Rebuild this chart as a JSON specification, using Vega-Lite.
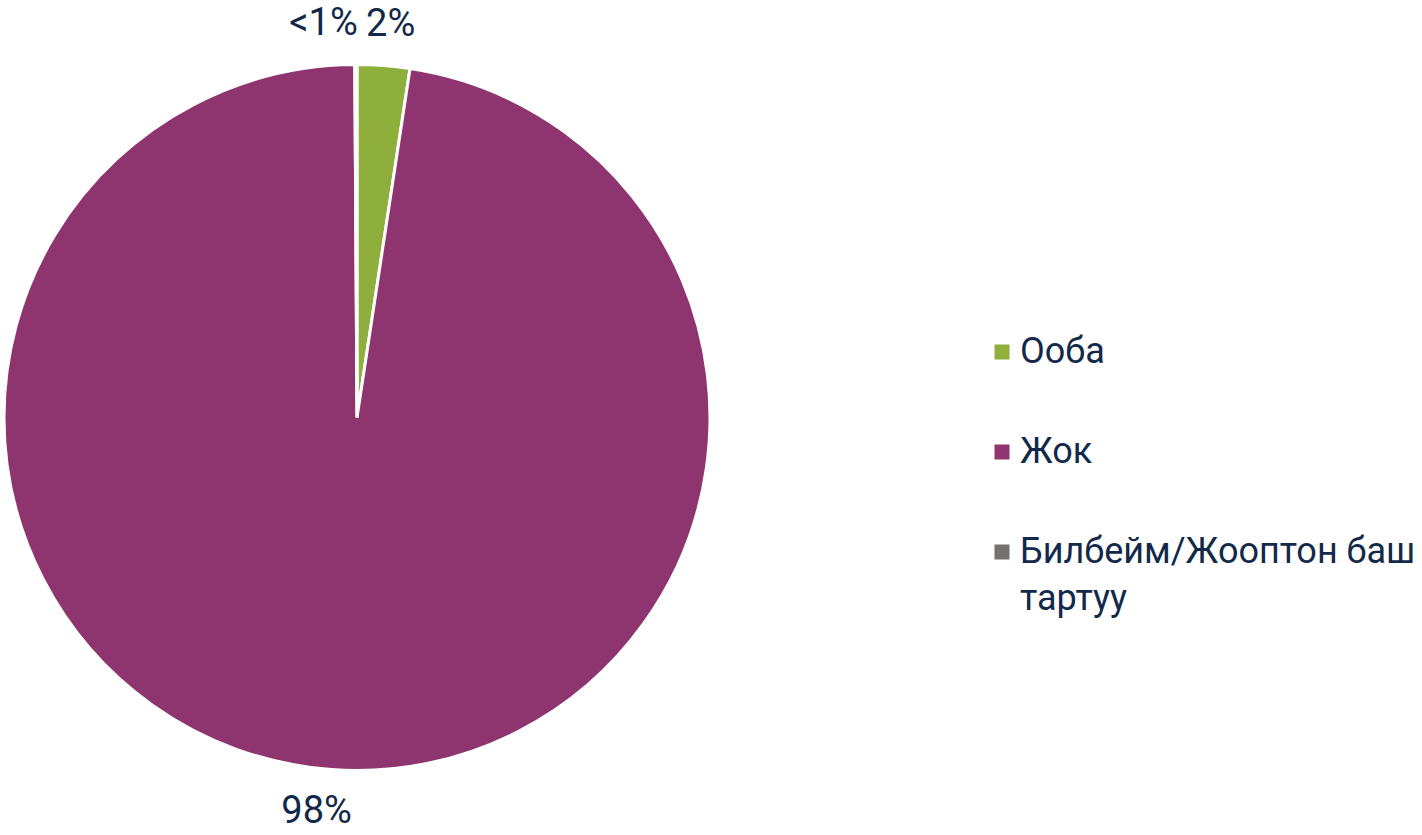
{
  "$schema": "https://vega.github.io/schema/vega-lite/v6.json",
  "width": 714,
  "height": 835,
  "autosize": "none",
  "padding": {"left": 0, "top": 0, "right": 708, "bottom": 0},
  "background": "white",
  "config": {
    "view": {"stroke": null},
    "style": {"guide-label": {"lineHeight": 47}}
  },
  "data": {
    "values": [
      {"category": "Ооба", "value": 2.4, "label": "2%", "order": 1},
      {"category": "Жок", "value": 97.5, "label": "98%", "order": 2},
      {"category": "Билбейм/Жооптон баш тартуу", "value": 0.1, "label": "<1%", "order": 3}
    ]
  },
  "encoding": {
    "theta": {"field": "value", "type": "quantitative", "stack": true},
    "order": {"field": "order", "type": "quantitative"}
  },
  "layer": [
    {
      "mark": {"type": "arc", "outerRadius": 353, "stroke": "white", "strokeWidth": 3},
      "encoding": {
        "color": {
          "field": "category",
          "type": "nominal",
          "scale": {
            "domain": ["Ооба", "Жок", "Билбейм/Жооптон баш тартуу"],
            "range": ["#8FAF3D", "#8E346F", "#767171"]
          },
          "legend": {
            "orient": "none",
            "legendX": 984,
            "legendY": 334,
            "title": null,
            "padding": 0,
            "symbolType": "square",
            "symbolSize": 225,
            "symbolStrokeWidth": 0,
            "labelFont": "Roboto",
            "labelFontSize": 36,
            "labelColor": "#12294A",
            "labelOffset": 0,
            "labelLimit": 0,
            "rowPadding": 64,
            "labelExpr": "datum.label == 'Билбейм/Жооптон баш тартуу' ? ['Билбейм/Жооптон баш', 'тартуу'] : datum.label",
            "encode": {"labels": {"update": {"lineHeight": {"value": 47}}}}
          }
        }
      }
    },
    {
      "mark": {"type": "text", "radius": 394, "font": "Roboto", "fontSize": 38, "color": "#12294A", "align": "center", "baseline": "middle", "dx": 4, "dy": 0},
      "encoding": {
        "text": {"condition": {"test": "datum.label == '2%'", "field": "label"}, "value": ""}
      }
    },
    {
      "mark": {"type": "text", "radius": 394, "font": "Roboto", "fontSize": 38, "color": "#12294A", "align": "center", "baseline": "middle", "dx": -12, "dy": 2},
      "encoding": {
        "text": {"condition": {"test": "datum.label == '98%'", "field": "label"}, "value": ""}
      }
    },
    {
      "mark": {"type": "text", "radius": 394, "font": "Roboto", "fontSize": 38, "color": "#12294A", "align": "right", "baseline": "middle", "dx": 2, "dy": 0},
      "encoding": {
        "text": {"condition": {"test": "datum.label == '<1%'", "field": "label"}, "value": ""}
      }
    }
  ]
}
